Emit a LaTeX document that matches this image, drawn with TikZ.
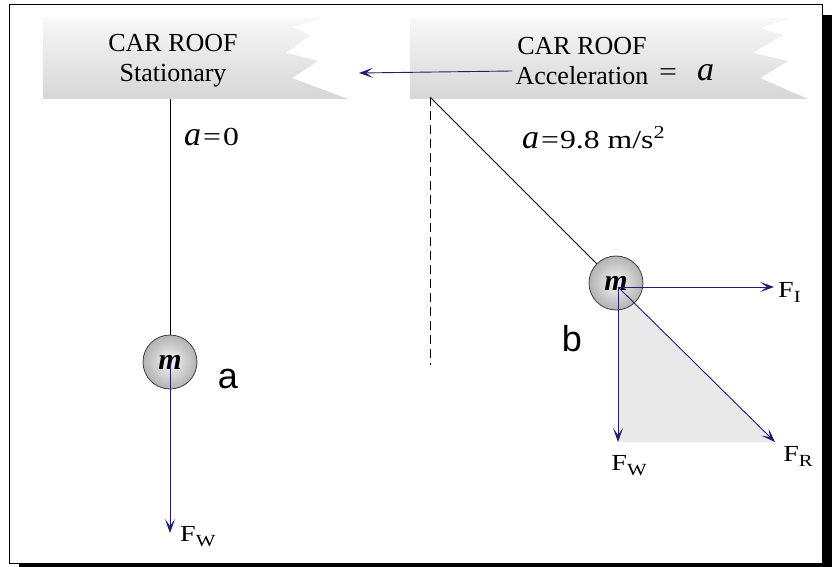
\documentclass[tikz,border=0pt]{standalone}
\usepackage{fontspec}
\setmainfont{Liberation Serif}
\setsansfont{Liberation Sans}
\newfontfamily\eqfont[FakeStretch=1.22]{Liberation Serif}
\usepackage{xcolor}
\usetikzlibrary{arrows.meta,positioning,calc}
\definecolor{navy}{RGB}{30,30,110}
\newcommand{\accsym}{{\fontsize{34}{34}\selectfont\itshape a}}

\begin{document}
\begin{tikzpicture}[x=1pt,y=-1pt,>={Stealth[length=14pt,width=10pt,inset=7pt]},
  force/.style={->,draw=navy,line width=0.9pt},
  rope/.style={draw=black,line width=1pt},
  ball/.style={circle,draw=black!75,line width=0.8pt,minimum size=54pt,inner sep=0pt,
    inner color=gray!8,outer color=gray!60},
  roof/.style={align=center,font=\fontsize{26}{30}\selectfont},
  flabel/.style={font=\eqfont\fontsize{23}{23}\selectfont,inner sep=1pt},
  tag/.style={font=\sffamily\fontsize{36}{36}\selectfont,inner sep=0pt}]
  \useasboundingbox (0,0) rectangle (832,567);
  % frame with shadow
  \fill[black] (19,15) rectangle (832,567);
  \filldraw[fill=white,draw=black,line width=1pt] (9,5) rectangle (822,563);
  % car roofs
  \shade[top color=gray!6,bottom color=gray!32] (43,18) -- (322,18) -- (292,27) -- (310,35) -- (286,53)
    -- (318,61) -- (292,78) -- (348,99) -- (43,99) -- cycle;
  \shade[top color=gray!6,bottom color=gray!32] (410,18) -- (792,18) -- (760,28) -- (783,35) -- (753,53)
    -- (788,61) -- (760,78) -- (808,99) -- (410,99) -- cycle;
  \node[roof] (roofL) at (173,61) {CAR ROOF\\Stationary};
  \node[roof] (roofR) at (582,61) {CAR ROOF\\Acceleration};
  \node[anchor=base west,inner sep=0pt] (acceq) at (659,81)
    {{\eqfont\fontsize{26}{26}\selectfont =}\hspace{20pt}\accsym};
  \coordinate (acctip) at (359,73);
  \draw[force] ([yshift=-10pt]roofR.west) -- (acctip);
  % accelerations
  \node[anchor=base west,inner sep=0pt] (accA) at (184,145)
    {\accsym\hspace{2pt}{\eqfont\fontsize{26}{26}\selectfont =\hspace{2pt}0}};
  \node[anchor=base west,inner sep=0pt] (accB) at (522,148)
    {\accsym\hspace{2pt}{\eqfont\fontsize{26}{26}\selectfont =\hspace{1pt}9.8 m/s\textsuperscript{2}}};
  % case a
  \coordinate (hookA) at (170,99);
  \node[ball] (ballA) at (170,362) {\fontsize{30}{30}\selectfont\bfseries\itshape m};
  \draw[rope] (hookA) -- (ballA);
  \coordinate (tipA) at (170,533);
  \node[flabel,anchor=north west] (fwA) at (179,525) {F{\fontsize{17}{17}\selectfont\raisebox{-5pt}{W}}};
  \draw[force] (ballA.center) -- (tipA);
  \node[tag] (labA) at (228,379) {a};
  % case b
  \coordinate (hookB) at (430,97);
  \coordinate (dashB) at (430,365);
  \draw[dashed,line width=0.8pt,dash pattern=on 9pt off 5pt] (hookB) -- (dashB);
  \coordinate (cB) at (618,287);
  \coordinate (tipI) at (774,287);
  \coordinate (tipW) at (618,442);
  \coordinate (tipR) at (775,442);
  \fill[gray!17] (cB) -- (tipW) -- (tipR) -- cycle;
  \node[ball] (ballB) at (616,283) {\fontsize{30}{30}\selectfont\bfseries\itshape m};
  \draw[rope] (hookB) -- (ballB);
  \draw[force] (cB) -- (tipI);
  \draw[force] (cB) -- (tipW);
  \draw[force] (cB) -- (tipR);
  \node[flabel,anchor=west] (fiB) at (777,292) {F{\fontsize{17}{17}\selectfont\raisebox{-5pt}{I}}};
  \node[flabel] (fwB) at (629,466) {F{\fontsize{17}{17}\selectfont\raisebox{-5pt}{W}}};
  \node[flabel] (frB) at (798,456) {F{\fontsize{17}{17}\selectfont\raisebox{-5pt}{R}}};
  \node[tag] (labB) at (572,339) {b};
\end{tikzpicture}
\end{document}
